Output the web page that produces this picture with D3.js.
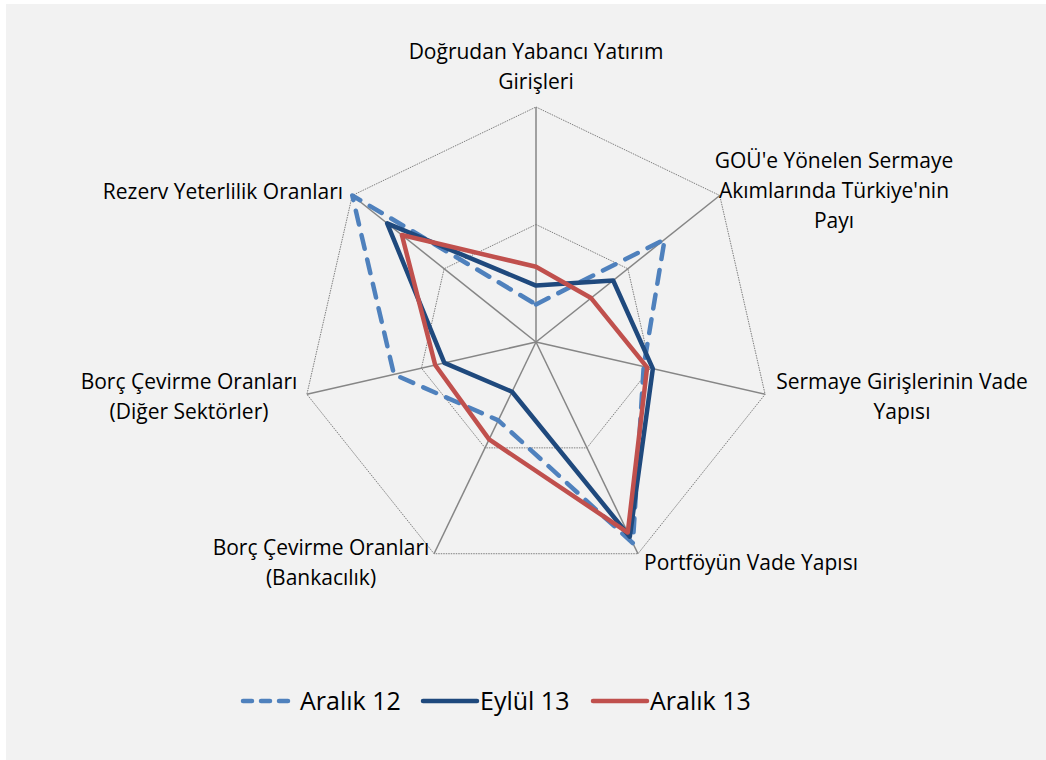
<!DOCTYPE html>
<html>
<head>
<meta charset="utf-8">
<script src="https://cdn.jsdelivr.net/npm/d3@7"></script>
<style>
  body { margin: 0; background: #ffffff; }
  text { font-family: "Open Sans", Lato, sans-serif; fill: #000; }
</style>
</head>
<body>
<div id="chart"></div>
<script>
const width = 1046;
const height = 760;
const center = {x: 536, y: 342};
const radius = 235;

// axis names (one entry per line of the label)
const axes = [
  ["Doğrudan Yabancı Yatırım", "Girişleri"],
  ["GOÜ'e Yönelen Sermaye", "Akımlarında Türkiye'nin", "Payı"],
  ["Sermaye Girişlerinin Vade", "Yapısı"],
  ["Portföyün Vade Yapısı"],
  ["Borç Çevirme Oranları", "(Bankacılık)"],
  ["Borç Çevirme Oranları", "(Diğer Sektörler)"],
  ["Rezerv Yeterlilik Oranları"]
];

const seriesNames = ["Aralık 12", "Eylül 13", "Aralık 13"];
const aralik12 = [0.16, 0.70, 0.47, 0.95, 0.37, 0.62, 1.00];
const eylul13  = [0.24, 0.42, 0.51, 0.92, 0.235, 0.40, 0.81];
const aralik13 = [0.32, 0.30, 0.485, 0.90, 0.46, 0.44, 0.73];
const gridLevels = [0.5, 1];

const colors = ["#4F81BD", "#1F497D", "#C0504D"];
const dashes = ["14,11", null, null];

// label anchor points (centre x, first baseline y)
const labelPos = [
  {x: 536, y: 59},
  {x: 834, y: 168},
  {x: 902, y: 389},
  {x: 751, y: 570},
  {x: 321, y: 555},
  {x: 189, y: 389},
  {x: 223, y: 199}
];

const svg = d3.select("#chart").append("svg")
  .attr("width", width)
  .attr("height", height);

svg.append("rect")
  .attr("x", 6).attr("y", 4)
  .attr("width", width - 6).attr("height", height - 4)
  .attr("fill", "#f2f2f2");

const rScale = d3.scaleLinear().domain([0, 1]).range([0, radius]);
const angle = d3.scaleLinear().domain([0, axes.length]).range([0, 2 * Math.PI]);

function pt(i, v) {
  const a = angle(i);
  return [center.x + rScale(v) * Math.sin(a), center.y - rScale(v) * Math.cos(a)];
}

const g = svg.append("g");

// grid polygons
g.selectAll(".grid")
  .data(gridLevels)
  .join("polygon")
  .attr("class", "grid")
  .attr("points", lv => axes.map((d, i) => pt(i, lv).join(",")).join(" "))
  .attr("fill", "none")
  .attr("stroke", "#7f7f7f")
  .attr("stroke-width", 1)
  .attr("stroke-dasharray", "1.5,1");

// spokes
g.selectAll(".spoke")
  .data(axes)
  .join("line")
  .attr("class", "spoke")
  .attr("x1", center.x).attr("y1", center.y)
  .attr("x2", (d, i) => pt(i, 1)[0])
  .attr("y2", (d, i) => pt(i, 1)[1])
  .attr("stroke", "#868686")
  .attr("stroke-width", 1.5);

// series
const allSeries = [aralik12, eylul13, aralik13];
const line = d3.lineRadial()
  .angle((d, i) => angle(i))
  .radius(d => rScale(d))
  .curve(d3.curveLinearClosed);

g.selectAll(".series")
  .data(allSeries)
  .join("path")
  .attr("class", "series")
  .attr("transform", `translate(${center.x},${center.y})`)
  .attr("d", d => line(d))
  .attr("fill", "none")
  .attr("stroke", (d, i) => colors[i])
  .attr("stroke-width", 4.5)
  .attr("stroke-linejoin", "round")
  .attr("stroke-linecap", "round")
  .attr("stroke-dasharray", (d, i) => dashes[i]);

// axis labels
const labels = svg.selectAll(".label")
  .data(axes)
  .join("text")
  .attr("class", "label")
  .attr("text-anchor", "middle")
  .attr("font-size", "21px");

labels.selectAll("tspan")
  .data((d, i) => d.map(t => ({t: t, i: i})))
  .join("tspan")
  .attr("x", d => labelPos[d.i].x)
  .attr("y", (d, j) => labelPos[d.i].y + j * 30)
  .text(d => d.t);

// legend
const legendX = [240, 420, 590];
const legend = svg.selectAll(".legend")
  .data(seriesNames)
  .join("g")
  .attr("class", "legend")
  .attr("transform", (d, i) => `translate(${legendX[i]},701)`);

legend.append("line")
  .attr("x1", 3).attr("x2", 57)
  .attr("stroke", (d, i) => colors[i])
  .attr("stroke-width", 4.5)
  .attr("stroke-linecap", "round")
  .attr("stroke-dasharray", (d, i) => i === 0 ? "9,9" : null);

legend.append("text")
  .attr("x", (d, i) => i === 0 ? 60 : 60)
  .attr("y", 9)
  .attr("font-size", "25px")
  .text(d => d);
</script>
</body>
</html>
